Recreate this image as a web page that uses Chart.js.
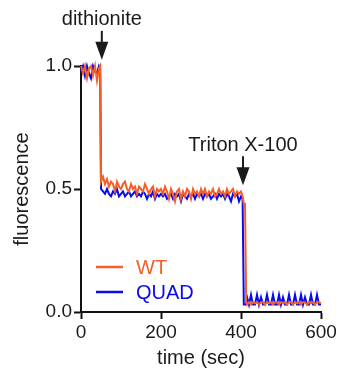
<!DOCTYPE html>
<html>
<head>
<meta charset="utf-8">
<script src="https://cdn.jsdelivr.net/npm/chart.js@4.4.0/dist/chart.umd.min.js"></script>
<style>
  html, body { margin: 0; padding: 0; background: #fff; }
  #wrap { width: 341px; height: 370px; }
</style>
</head>
<body>
<div id="wrap"><canvas id="myChart" width="341" height="370"></canvas></div>
<script>
// time points (sec)
const time = [
  0, 5, 10, 15, 20, 25, 30, 35, 40, 45, 48, 50,
  55, 60, 65, 70, 75, 80, 85, 90, 95, 100,
  105, 110, 115, 120, 125, 130, 135, 140, 145, 150,
  155, 160, 165, 170, 175, 180, 185, 190, 195, 200,
  205, 210, 215, 220, 225, 230, 235, 240, 245, 250,
  255, 260, 265, 270, 275, 280, 285, 290, 295, 300,
  305, 310, 315, 320, 325, 330, 335, 340, 345, 350,
  355, 360, 365, 370, 375, 380, 385, 390, 395, 400,
  404, 407, 410, 413, 415,
  420, 425, 430, 435, 440, 445, 450, 455, 460, 465,
  470, 475, 480, 485, 490, 495, 500, 505, 510, 515,
  520, 525, 530, 535, 540, 545, 550, 555, 560, 565,
  570, 575, 580, 585, 590, 595, 600
];

const wt = [
  1.00, 0.97, 1.00, 0.95, 0.99, 1.00, 0.96, 1.00, 0.94, 0.99, 1.00, 0.53,
  0.55, 0.52, 0.54, 0.51, 0.53, 0.52, 0.49, 0.53, 0.51, 0.50,
  0.52, 0.53, 0.50, 0.49, 0.52, 0.50, 0.51, 0.48, 0.51, 0.50,
  0.49, 0.52, 0.50, 0.48, 0.50, 0.51, 0.47, 0.50, 0.49, 0.50,
  0.48, 0.51, 0.49, 0.46, 0.50, 0.48, 0.45, 0.49, 0.50, 0.46,
  0.49, 0.47, 0.50, 0.49, 0.46, 0.50, 0.48, 0.49, 0.47, 0.50,
  0.48, 0.50, 0.47, 0.49, 0.48, 0.50, 0.47, 0.48, 0.50, 0.48,
  0.49, 0.47, 0.50, 0.48, 0.49, 0.50, 0.47, 0.49, 0.48, 0.49,
  0.47, 0.44, 0.44, 0.04, 0.03,
  0.04, 0.03, 0.04, 0.035, 0.04, 0.03, 0.04, 0.04, 0.03, 0.04,
  0.035, 0.04, 0.03, 0.04, 0.04, 0.03, 0.04, 0.035, 0.04, 0.03,
  0.04, 0.04, 0.03, 0.04, 0.035, 0.04, 0.03, 0.04, 0.04, 0.03,
  0.04, 0.035, 0.04, 0.03, 0.04, 0.04, 0.035
];

const quad = [
  0.98, 1.00, 0.96, 1.00, 0.97, 0.95, 1.00, 0.98, 0.97, 1.00, 0.99, 0.50,
  0.49, 0.48, 0.50, 0.48, 0.47, 0.49, 0.48, 0.50, 0.47, 0.48,
  0.49, 0.47, 0.48, 0.49, 0.47, 0.48, 0.49, 0.47, 0.48, 0.47,
  0.49, 0.48, 0.46, 0.48, 0.47, 0.49, 0.46, 0.48, 0.47, 0.48,
  0.47, 0.48, 0.46, 0.47, 0.48, 0.46, 0.48, 0.47, 0.48, 0.45,
  0.48, 0.47, 0.46, 0.48, 0.47, 0.48, 0.46, 0.48, 0.47, 0.48,
  0.46, 0.48, 0.47, 0.48, 0.46, 0.47, 0.48, 0.46, 0.48, 0.47,
  0.48, 0.46, 0.48, 0.47, 0.45, 0.48, 0.47, 0.48, 0.45, 0.47,
  0.46, 0.03, 0.03, 0.03, 0.06,
  0.03, 0.07, 0.03, 0.03, 0.07, 0.03, 0.06, 0.03, 0.03, 0.07,
  0.03, 0.03, 0.07, 0.03, 0.03, 0.07, 0.03, 0.06, 0.03, 0.03,
  0.07, 0.03, 0.03, 0.07, 0.03, 0.03, 0.07, 0.03, 0.06, 0.03,
  0.03, 0.07, 0.03, 0.03, 0.07, 0.03, 0.03
];

const xTicks = [0, 200, 400, 600];
const yTicks = [0, 0.5, 1.0];

// additions marked with arrows
const eventLabels = ['dithionite', 'Triton X-100'];
const eventTimes = [52, 405];
const eventTips = [1.025, 0.515];

const WT_COLOR = '#F4602A';
const QUAD_COLOR = '#0A0AF0';
const FONT = "'Liberation Sans', Arial, sans-serif";

const annotations = {
  id: 'annotations',
  afterDraw(chart) {
    const ctx = chart.ctx;
    const x = chart.scales.x, y = chart.scales.y;
    ctx.save();
    ctx.fillStyle = '#1a1a1a';
    ctx.strokeStyle = '#1a1a1a';
    ctx.lineWidth = 2;
    ctx.font = '20px ' + FONT;
    ctx.textAlign = 'center';
    ctx.textBaseline = 'middle';
    eventLabels.forEach((label, i) => {
      const px = x.getPixelForValue(eventTimes[i]);
      const tip = y.getPixelForValue(eventTips[i]);
      ctx.fillText(label, px, tip - 40);
      ctx.beginPath();
      ctx.moveTo(px, tip - 29);
      ctx.lineTo(px, tip - 17);
      ctx.stroke();
      ctx.beginPath();
      ctx.moveTo(px - 6.5, tip - 18);
      ctx.lineTo(px + 6.5, tip - 18);
      ctx.lineTo(px, tip);
      ctx.closePath();
      ctx.fill();
    });

    // legend inside the plot
    ctx.textAlign = 'left';
    chart.data.datasets.forEach((ds, i) => {
      const ly = 267 + i * 25;
      ctx.strokeStyle = ds.borderColor;
      ctx.lineWidth = 2.5;
      ctx.beginPath();
      ctx.moveTo(96, ly);
      ctx.lineTo(123, ly);
      ctx.stroke();
      ctx.fillStyle = ds.borderColor;
      ctx.fillText(ds.label, 136, ly + 1);
    });
    ctx.restore();
  }
};

new Chart(document.getElementById('myChart').getContext('2d'), {
  type: 'line',
  data: {
    datasets: [
      {
        label: 'WT',
        data: time.map((t, i) => ({ x: t, y: wt[i] })),
        borderColor: WT_COLOR,
        borderWidth: 2,
        pointRadius: 0,
        tension: 0,
        clip: false
      },
      {
        label: 'QUAD',
        data: time.map((t, i) => ({ x: t, y: quad[i] })),
        borderColor: QUAD_COLOR,
        borderWidth: 2,
        pointRadius: 0,
        tension: 0,
        clip: false
      }
    ]
  },
  options: {
    responsive: false,
    animation: false,
    events: [],
    layout: { padding: { top: 66, right: 20, left: 0, bottom: 0 } },
    plugins: { legend: { display: false }, tooltip: { enabled: false } },
    scales: {
      x: {
        type: 'linear',
        min: 0,
        max: 600,
        afterBuildTicks: s => { s.ticks = xTicks.map(v => ({ value: v })); },
        afterFit: s => { s.height = 58; },
        grid: { drawOnChartArea: false, drawTicks: true, tickLength: 7, tickWidth: 2, tickColor: '#111' },
        border: { color: '#111', width: 2 },
        ticks: { color: '#1a1a1a', padding: 2, maxRotation: 0, font: { family: FONT, size: 19 } },
        title: { display: true, text: 'time (sec)', color: '#1a1a1a', padding: 0, font: { family: FONT, size: 20 } }
      },
      y: {
        min: 0,
        max: 1.0,
        afterBuildTicks: s => { s.ticks = yTicks.map(v => ({ value: v })); },
        afterFit: s => { s.width = 81; },
        grid: { drawOnChartArea: false, drawTicks: true, tickLength: 7, tickWidth: 2, tickColor: '#111' },
        border: { color: '#111', width: 2 },
        ticks: { color: '#1a1a1a', padding: 2, font: { family: FONT, size: 19 }, callback: v => v.toFixed(1) },
        title: { display: true, text: 'fluorescence', color: '#1a1a1a', padding: { top: 10 }, font: { family: FONT, size: 20 } }
      }
    }
  },
  plugins: [annotations]
});
</script>
</body>
</html>
